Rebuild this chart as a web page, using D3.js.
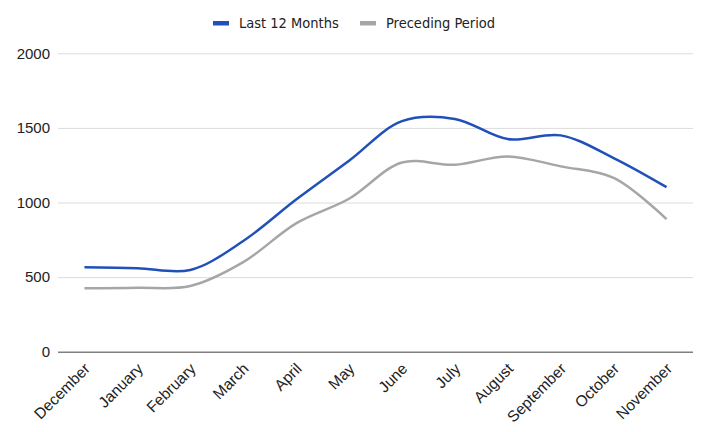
<!DOCTYPE html>
<html>
<head>
<meta charset="utf-8">
<script src="https://cdn.jsdelivr.net/npm/d3@7"></script>
<style>
  body { margin: 0; background: #fff; }
  svg { display: block; }
</style>
</head>
<body>
<div id="chart"></div>
<script>
// Data
const months = ['December', 'January', 'February', 'March', 'April', 'May',
  'June', 'July', 'August', 'September', 'October', 'November'];
const last12 = [566, 560, 548, 742, 1020, 1280, 1545, 1560, 1425, 1450, 1298, 1103];
const preceding = [425, 428, 440, 600, 860, 1025, 1268, 1253, 1309, 1242, 1165, 889];
const yTicks = [0, 500, 1000, 1500, 2000];
const seriesNames = ['Last 12 Months', 'Preceding Period'];
const seriesColors = ['#2050b8', '#a6a6a6'];

const width = 709;
const height = 432;
const plot = { left: 58, right: 693, top: 53.3, bottom: 351.7 };

const svg = d3.select('#chart')
  .append('svg')
  .attr('width', width)
  .attr('height', height);

const x = d3.scalePoint()
  .domain(months)
  .range([plot.left, plot.right])
  .padding(0.5);

const y = d3.scaleLinear()
  .domain([0, 2000])
  .range([plot.bottom, plot.top]);

// Gridlines + y labels
const yAxis = svg.append('g')
  .attr('transform', `translate(${plot.left},0)`)
  .call(d3.axisLeft(y)
    .tickValues(yTicks)
    .tickFormat(d3.format('d'))
    .tickSize(-(plot.right - plot.left))
    .tickPadding(8));

yAxis.select('.domain').remove();
yAxis.selectAll('.tick line')
  .attr('stroke', d => d === 0 ? '#808080' : '#dcdcdc')
  .attr('stroke-width', d => d === 0 ? 1.5 : 1);
yAxis.selectAll('.tick text')
  .attr('fill', '#222')
  .attr('font-family', '"Liberation Sans", Arial, sans-serif')
  .attr('font-size', '15px');

// X labels, rotated
const xAxis = svg.append('g')
  .attr('transform', `translate(0,${plot.bottom})`)
  .call(d3.axisBottom(x).tickSize(0).tickPadding(0));

xAxis.select('.domain').remove();
xAxis.selectAll('.tick text')
  .attr('fill', '#222')
  .attr('font-family', '"Liberation Sans", Arial, sans-serif')
  .attr('font-size', '15.5px')
  .attr('text-anchor', 'end')
  .attr('dy', null)
  .attr('y', 0)
  .attr('transform', 'translate(6,18) rotate(-45)');

// Lines
const line = d3.line()
  .x((d, i) => x(months[i]))
  .y(d => y(d))
  .curve(d3.curveCatmullRom.alpha(0.5));

[preceding, last12].forEach((values, k) => {
  const idx = k === 0 ? 1 : 0;
  svg.append('path')
    .datum(values)
    .attr('fill', 'none')
    .attr('stroke', seriesColors[idx])
    .attr('stroke-width', 2.5)
    .attr('d', line);
});

// Legend
const legendX = [213, 360];
const legend = svg.append('g');
seriesNames.forEach((name, i) => {
  legend.append('rect')
    .attr('x', legendX[i])
    .attr('y', 21)
    .attr('width', 16)
    .attr('height', 4.5)
    .attr('fill', seriesColors[i]);
  legend.append('text')
    .attr('x', legendX[i] + 26)
    .attr('y', 28)
    .attr('font-family', '"DejaVu Sans Condensed", "DejaVu Sans", sans-serif')
    .attr('font-size', '14.5px')
    .attr('fill', '#222')
    .text(name);
});
</script>
</body>
</html>
